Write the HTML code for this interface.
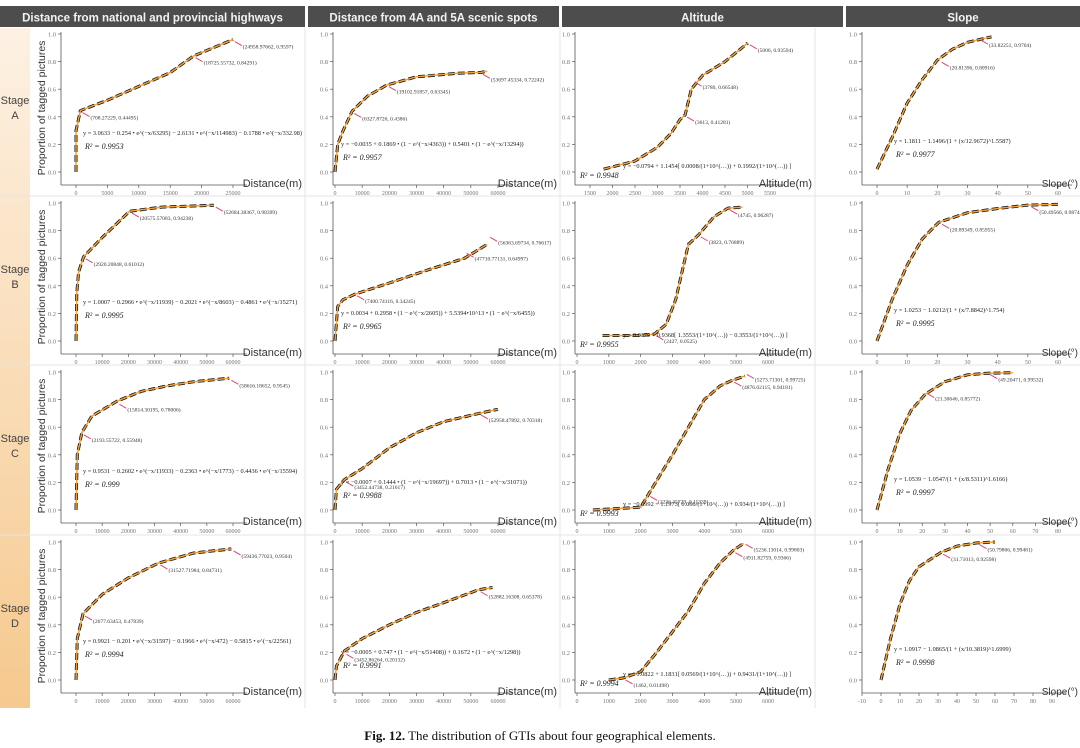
<!DOCTYPE html>
<html><head><meta charset="utf-8">
<style>
body{margin:0;background:#fff;width:1080px;height:748px;overflow:hidden;font-family:"Liberation Sans",sans-serif}
#caption{position:absolute;left:0;top:728px;width:1080px;text-align:center;font:13px "Liberation Serif",serif;color:#111}
</style></head><body>
<svg id="fig" width="1080" height="720" style="position:absolute;left:0;top:0" xmlns="http://www.w3.org/2000/svg">
<defs><linearGradient id="stg" x1="0" y1="0" x2="0" y2="1"><stop offset="0" stop-color="#fdf1e3"/><stop offset="1" stop-color="#f6c98e"/></linearGradient></defs>
<rect x="0" y="28" width="30" height="680" fill="url(#stg)"/>
<g id="headers"></g><g id="panels"></g>
</svg>
<div id="caption"><b>Fig. 12.</b> The distribution of GTIs about four geographical elements.</div>
<script>
const headerTitles = ["Distance from national and provincial highways","Distance from 4A and 5A scenic spots","Altitude","Slope"];
const stageNames = ["A","B","C","D"];
const xTitles = ["Distance(m)","Distance(m)","Altitude(m)","Slope(°)"];
const yTicks = [0,0.2,0.4,0.6,0.8,1.0];
// x tick ranges per panel [row][col] : [min,max,step]
const xTickRanges = [
 [[0,25000,5000],[0,60000,10000],[1500,5500,500],[0,60,10]],
 [[0,60000,10000],[0,60000,10000],[0,6000,1000],[0,60,10]],
 [[0,60000,10000],[0,60000,10000],[0,6000,1000],[0,80,10]],
 [[0,60000,10000],[0,60000,10000],[0,6000,1000],[-10,90,10]]
];
// curve data per panel
const curveX = [
 [[0,0,700,5000,10000,15000,18700,25000],[0,1000,3000,6300,12000,19000,30000,45000,53700,56000],[1800,2500,3000,3300,3500,3613,3750,4000,4500,5006],[0,5,10,15,20,25,30,38]],
 [[0,300,1000,2900,10000,20500,32700,52700],[0,1000,3000,7400,20000,35000,47700,56000],[800,2000,2427,2800,3100,3300,3500,3823,4300,4745,5200],[0,5,10,15,20.5,30,40,50,60]],
 [[0,500,2200,6000,15800,25000,35000,45000,58600],[0,500,3450,10000,20000,30000,40000,53000,60000],[500,2000,2236,2600,3000,3500,4000,4500,4876,5273],[0,5,10,15,21.4,30,40,49,60]],
 [[0,500,2680,10000,20000,31500,45000,59400],[0,500,3450,10000,20000,30000,40000,52900,58000],[1000,1462,2000,2500,3000,3500,4000,4500,4911,5236],[0,5,10,15,20,31.7,40,50,60]]
];
const curveY = [
 [[0,0.3,0.445,0.52,0.62,0.72,0.84,0.96],[0,0.2,0.3,0.44,0.55,0.63,0.69,0.715,0.722,0.73],[0.02,0.08,0.18,0.28,0.38,0.413,0.6,0.7,0.8,0.935],[0.02,0.25,0.5,0.67,0.81,0.89,0.94,0.98]],
 [[0,0.35,0.5,0.61,0.75,0.94,0.97,0.984],[0,0.25,0.3,0.34,0.42,0.52,0.6,0.7],[0.04,0.04,0.05,0.12,0.3,0.5,0.7,0.77,0.9,0.963,0.97],[0,0.3,0.55,0.74,0.86,0.93,0.96,0.985,0.99]],
 [[0,0.4,0.56,0.68,0.79,0.86,0.9,0.93,0.955],[0,0.15,0.22,0.3,0.45,0.56,0.64,0.7,0.73],[0,0.02,0.11,0.25,0.4,0.6,0.8,0.9,0.94,0.97],[0,0.3,0.55,0.72,0.84,0.93,0.98,0.991,0.995]],
 [[0,0.3,0.48,0.62,0.74,0.847,0.92,0.95],[0,0.1,0.21,0.3,0.4,0.49,0.56,0.654,0.67],[0,0.015,0.06,0.2,0.35,0.5,0.7,0.85,0.94,0.99],[0,0.3,0.55,0.72,0.82,0.926,0.97,0.993,1.0]]
];
const annotLabels = [
 [["(708.27229, 0.44495)","(18725.55732, 0.84291)","(24958.97662, 0.9597)"],["(6327.8726, 0.4386)","(19102.91857, 0.63345)","(53697.45334, 0.72242)"],["(3613, 0.41281)","(3780, 0.66548)","(5006, 0.93594)"],["(20.81396, 0.80916)","(33.82251, 0.9704)"]],
 [["(2920.20848, 0.61012)","(20575.57083, 0.94238)","(52684.38367, 0.98399)"],["(7400.74116, 0.34245)","(47710.77131, 0.64997)","(56363.69734, 0.76617)"],["(2427, 0.0525)","(3823, 0.76889)","(4745, 0.96287)"],["(20.89349, 0.85955)","(50.49566, 0.98748)"]],
 [["(2193.55722, 0.55948)","(15814.30195, 0.78006)","(58616.18652, 0.9545)"],["(3452.44738, 0.21617)","(52958.47892, 0.70318)"],["(2236.35729, 0.11339)","(4876.02115, 0.94181)","(5273.71301, 0.99725)"],["(21.30646, 0.85772)","(49.20471, 0.99532)"]],
 [["(2677.63453, 0.47839)","(31527.71984, 0.84731)","(59436.77023, 0.9504)"],["(3452.86264, 0.20132)","(52882.16308, 0.65378)"],["(1462, 0.01498)","(4911.82759, 0.9366)","(5236.13014, 0.99803)"],["(31.71013, 0.92598)","(50.79806, 0.99481)"]]
];
const annotX = [
 [[708,18725,24959],[6328,19103,53697],[3613,3780,5006],[20.8,33.8]],
 [[2920,20576,52684],[7401,47711,56364],[2427,3823,4745],[20.9,50.5]],
 [[2194,15814,58616],[3452,52958],[2236,4876,5274],[21.3,49.2]],
 [[2678,31528,59437],[3453,52882],[1462,4912,5236],[31.7,50.8]]
];
const annotY = [
 [[0.445,0.843,0.96],[0.439,0.633,0.722],[0.413,0.665,0.936],[0.809,0.97]],
 [[0.61,0.942,0.984],[0.342,0.65,0.766],[0.0525,0.769,0.963],[0.86,0.987]],
 [[0.559,0.78,0.9545],[0.216,0.703],[0.113,0.942,0.997],[0.858,0.995]],
 [[0.478,0.847,0.95],[0.201,0.654],[0.015,0.937,0.998],[0.926,0.995]]
];
const equations = [
 ["y = 3.0633 − 0.254 • e^(−x/63295) − 2.6131 • e^(−x/114983) − 0.1788 • e^(−x/332.98)","y = −0.0035 + 0.1869 • (1 − e^(−x/4363)) + 0.5401 • (1 − e^(−x/13294))","y = −0.0794 + 1.1454[ 0.0008/(1+10^(…)) + 0.1992/(1+10^(…)) ]","y = 1.1811 − 1.1496/(1 + (x/12.9672)^1.5587)"],
 ["y = 1.0007 − 0.2966 • e^(−x/11939) − 0.2021 • e^(−x/8603) − 0.4861 • e^(−x/15271)","y = 0.0034 + 0.2958 • (1 − e^(−x/2605)) + 5.5394•10^13 • (1 − e^(−x/6455))","y = 0.0379 + 0.9368[ 1.3553/(1+10^(…)) − 0.3553/(1+10^(…)) ]","y = 1.0253 − 1.0212/(1 + (x/7.8842)^1.754)"],
 ["y = 0.9531 − 0.2602 • e^(−x/11933) − 0.2363 • e^(−x/1773) − 0.4436 • e^(−x/15594)","y = −0.0007 + 0.1444 • (1 − e^(−x/19697)) + 0.7013 • (1 − e^(−x/31071))","y = −0.0992 + 1.1973[ 0.066/(1+10^(…)) + 0.934/(1+10^(…)) ]","y = 1.0539 − 1.0547/(1 + (x/8.5311)^1.6166)"],
 ["y = 0.9921 − 0.201 • e^(−x/31597) − 0.1966 • e^(−x/472) − 0.5815 • e^(−x/22561)","y = −0.0005 + 0.747 • (1 − e^(−x/51408)) + 0.1672 • (1 − e^(−x/1298))","y = −0.0822 + 1.1831[ 0.0569/(1+10^(…)) + 0.9431/(1+10^(…)) ]","y = 1.0917 − 1.0865/(1 + (x/10.3819)^1.6999)"]
];
const r2Values = [["0.9953","0.9957","0.9948","0.9977"],["0.9995","0.9965","0.9955","0.9995"],["0.999","0.9988","0.9993","0.9997"],["0.9994","0.9991","0.9994","0.9998"]];

// layout
const rowTops=[28,197,366,536];
const colLeft=[30,305,560,815];
const axisXs=[61,333,575,862];
const pxRange=[
 [[76,233],[335,498],[590,770],[877,1058]],
 [[76,233],[335,498],[577,768],[877,1058]],
 [[76,233],[335,498],[577,768],[877,1058]],
 [[76,233],[335,498],[577,768],[862,1052]]
];
const NS="http://www.w3.org/2000/svg";
function mk(parent,tag,attrs,text){const e=document.createElementNS(NS,tag);for(const k in attrs)e.setAttribute(k,attrs[k]);if(text!==undefined)e.textContent=text;parent.appendChild(e);return e;}
const H=document.getElementById('headers'),P=document.getElementById('panels');
const hdrBox=[[0,305],[308,559],[562,843],[846,1080]];
headerTitles.forEach((t,i)=>{
 const r=mk(H,'rect',{x:hdrBox[i][0],y:6,width:hdrBox[i][1]-hdrBox[i][0],height:21,fill:'#4d4d4d'});
 
 
 const tx=mk(H,'text',{x:(hdrBox[i][0]+hdrBox[i][1])/2,y:21.5,'text-anchor':'middle',fill:'#f2f2f2','font-size':11.5,'font-weight':'bold'},t);
 
 
});
stageNames.forEach((s,r)=>{
 const T=rowTops[r];
 const t1=mk(P,'text',{x:15,y:T+76,'text-anchor':'middle','font-size':11,fill:'#444'},'Stage');
 
 
 const t2=mk(P,'text',{x:15,y:T+91,'text-anchor':'middle','font-size':11,fill:'#444'},s);
 
 
 if(r>0){const l=mk(P,'line',{x1:0,x2:1080,y1:T-1,y2:T-1,stroke:'#e4e4e4','stroke-width':1});}
});
for(let c=1;c<4;c++){const l=mk(P,'line',{x1:colLeft[c],x2:colLeft[c],y1:28,y2:708,stroke:'#e6e6e6'});}

for(let r=0;r<4;r++)for(let c=0;c<4;c++){
 const T=rowTops[r],ax=axisXs[c];
 const g=mk(P,'g',{});
 
 
 const [tmin,tmax,tstep]=xTickRanges[r][c];
 const [p0,p1]=pxRange[r][c];
 const xs=v=>p0+(v-tmin)/(tmax-tmin)*(p1-p0);
 const ys=v=>T+144-v*138;
 const xAxisY=T+157;
 const ya=mk(g,'line',{x1:ax,x2:ax,y1:T+4,y2:xAxisY,stroke:'#555','stroke-width':0.8});
 
 
 yTicks.forEach(v=>{
  mk(g,'line',{x1:ax-3,x2:ax,y1:ys(v),y2:ys(v),stroke:'#555','stroke-width':0.7});
  const t=mk(g,'text',{x:ax-5,y:ys(v)+2.5,'text-anchor':'end','font-size':6.5,fill:'#777','font-family':'Liberation Serif'},v.toFixed(1));
  
  
 });
 const xa=mk(g,'line',{x1:ax,x2:p1+14,y1:xAxisY,y2:xAxisY,stroke:'#555','stroke-width':0.8});
 
 
 for(let v=tmin;v<=tmax+1e-9;v+=tstep){
  mk(g,'line',{x1:xs(v),x2:xs(v),y1:xAxisY,y2:xAxisY+3,stroke:'#555','stroke-width':0.7});
  const t=mk(g,'text',{x:xs(v),y:xAxisY+10,'text-anchor':'middle','font-size':6,fill:'#777','font-family':'Liberation Serif'},String(v));
  
  
 }
 const xt=mk(g,'text',{x:(c==3?1078:colLeft[c+1]-3),y:xAxisY+2,'text-anchor':'end','font-size':(c==3?10:11),fill:'#333'},xTitles[c]);
 
 
 if(c==0){
  const yt=mk(g,'text',{x:0,y:0,transform:`translate(45,${T+80}) rotate(-90)`,'text-anchor':'middle','font-size':10.5,fill:'#333'},'Proportion of tagged pictures');
  
  
 }
 const X=curveX[r][c],Y=curveY[r][c];
 let d='';X.forEach((v,i)=>{d+=(i?'L':'M')+xs(v).toFixed(1)+','+ys(Y[i]).toFixed(1);});
 const dots=mk(g,'path',{d:d,fill:'none',stroke:'#111','stroke-width':3,'stroke-dasharray':'7 3','stroke-linejoin':'round'});
 
 
 const fit=mk(g,'path',{d:d,fill:'none',stroke:'#f0a03c','stroke-width':1.5,'stroke-linejoin':'round'});
 
 
 annotLabels[r][c].forEach((lab,i)=>{
  const px=xs(annotX[r][c][i]),py=ys(annotY[r][c][i]);
  mk(g,'line',{x1:px+2,y1:py+2,x2:px+9,y2:py+6,stroke:'#e0457b','stroke-width':1});
  const t=mk(g,'text',{x:px+10,y:py+9,'font-size':5.5,fill:'#333','font-family':'Liberation Serif'},lab);
  
  
 });
 let ex=ax+22,ey=T+107;
 if(c==2){ex=ax+48;ey=T+140;}
 if(c==3){ex=ax+32;ey=T+115;}
 if(c==1){ex=ax+8;ey=T+118;}
 const eq=mk(g,'text',{x:ex,y:ey,'font-size':6.3,fill:'#222','font-family':'Liberation Serif'},equations[r][c]);
 
 
 let rx=ex+2,ry=ey+14;
 if(c==2){rx=ax+5;ry=T+150;}
 const rr=mk(g,'text',{x:rx,y:ry,'font-size':8,fill:'#222','font-family':'Liberation Serif','font-style':'italic'},'R² = '+r2Values[r][c]);
 
 
}
</script>
</body></html>
